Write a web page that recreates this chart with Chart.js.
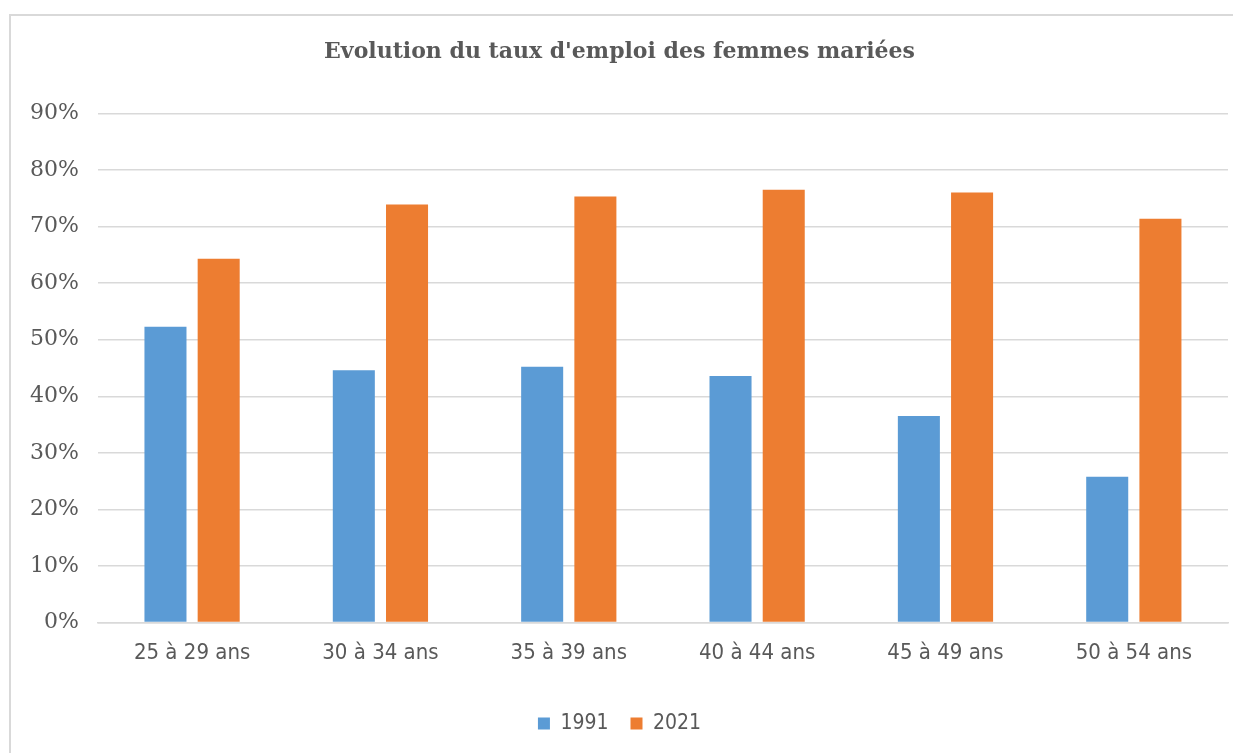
<!DOCTYPE html>
<html>
<head>
<meta charset="utf-8">
<script src="https://cdn.jsdelivr.net/npm/chart.js@4/dist/chart.umd.min.js"></script>
<style>
    html, body { margin: 0; padding: 0; background: #fff; overflow: hidden; }
    #box {
        position: absolute; left: 9px; top: 14px;
        width: 1240px; height: 745px;
        border: 2px solid #d9d9d9; box-sizing: border-box;
    }
    #wrap { position: absolute; left: 0; top: 0; width: 1222px; height: 741px; }
</style>
</head>
<body>
<div id="box"><div id="wrap"><canvas id="myChart1"></canvas></div></div>
<script>
var categories = ['25 à 29 ans', '30 à 34 ans', '35 à 39 ans', '40 à 44 ans', '45 à 49 ans', '50 à 54 ans'];
var values1991 = [52.3, 44.6, 45.2, 43.6, 36.5, 25.8];
var values2021 = [64.3, 73.9, 75.3, 76.5, 76.0, 71.4];
var yTicks = [0, 10, 20, 30, 40, 50, 60, 70, 80, 90];

document.addEventListener('DOMContentLoaded', function () {
    var ctx = document.getElementById('myChart1');
    var grey = '#595959';

    new Chart(ctx, {
        type: 'bar',
        data: {
            labels: categories,
            datasets: [
                {
                    label: '1991',
                    data: values1991,
                    backgroundColor: '#5b9bd5',
                    categoryPercentage: 0.565,
                    barPercentage: 0.79
                },
                {
                    label: '2021',
                    data: values2021,
                    backgroundColor: '#ed7d31',
                    categoryPercentage: 0.565,
                    barPercentage: 0.79
                }
            ]
        },
        options: {
            responsive: true,
            maintainAspectRatio: false,
            animation: false,
            layout: { padding: { left: 0, right: 5, top: 8, bottom: 13 } },
            plugins: {
                title: {
                    display: true,
                    text: "Evolution du taux d'emploi des femmes mariées",
                    color: grey,
                    font: { family: 'DejaVu Serif', size: 22, weight: 'bold' },
                    padding: { top: 15, bottom: 48 }
                },
                legend: {
                    position: 'bottom',
                    labels: {
                        color: grey,
                        boxWidth: 12,
                        boxHeight: 12,
                        padding: 22,
                        font: { family: 'DejaVu Sans Condensed', size: 21 }
                    }
                },
                tooltip: { enabled: false }
            },
            scales: {
                y: {
                    min: 0,
                    max: 90,
                    afterBuildTicks: function (axis) {
                        axis.ticks = yTicks.map(function (v) { return { value: v }; });
                    },
                    border: { display: false },
                    grid: { color: '#d9d9d9', lineWidth: 1.5, drawTicks: false },
                    ticks: {
                        color: grey,
                        padding: 19,
                        font: { family: 'DejaVu Serif', size: 22 },
                        callback: function (value) { return value + '%'; }
                    }
                },
                x: {
                    border: { color: '#d9d9d9', width: 1.5 },
                    grid: { display: false, drawTicks: false },
                    afterFit: function (axis) { axis.height += 8; },
                    ticks: {
                        color: grey,
                        padding: 17,
                        font: { family: 'DejaVu Sans Condensed', size: 22 }
                    }
                }
            }
        }
    });
});
</script>
</body>
</html>
